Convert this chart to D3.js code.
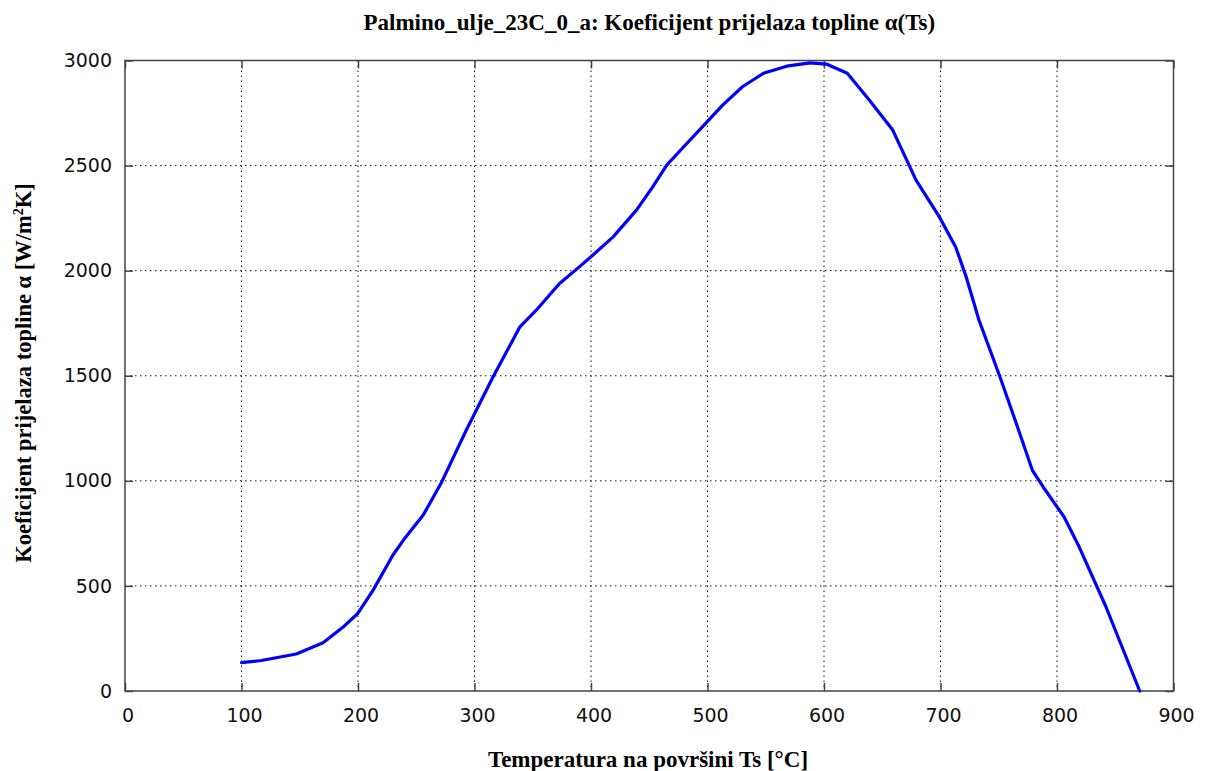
<!DOCTYPE html>
<html>
<head>
<meta charset="utf-8">
<script src="https://cdn.jsdelivr.net/npm/d3@7"></script>
<style>
  html, body { margin: 0; padding: 0; background: #fff; }
  svg { display: block; }
</style>
</head>
<body>
<svg id="chart" width="1205" height="771"></svg>
<script>
// ---- data ----
const temperature = [100,117,147,170,187,200,213,230,239,256,272,293,316,339,353,373,390,400,419,439,453,465,477,493,513,530,548,568,588,602,620,639,659,679,699,713,722,733,751,765,779,788,806,819,842,871];
const alpha       = [135,145,176,230,303,370,480,647,718,837,996,1242,1495,1733,1812,1939,2018,2066,2161,2288,2399,2502,2574,2669,2788,2875,2939,2973,2989,2983,2939,2811,2669,2431,2256,2113,1971,1765,1495,1274,1048,972,829,686,401,0];
const xTicks = [0,100,200,300,400,500,600,700,800,900];
const yTicks = [0,500,1000,1500,2000,2500,3000];
const titleText = "Palmino_ulje_23C_0_a: Koeficijent prijelaza topline α(Ts)";
const xLabelText = "Temperatura na površini Ts [°C]";

// ---- layout ----
const svg = d3.select("#chart");
const L = 125, R = 1173.5, T = 60.5, B = 691;
const x = d3.scaleLinear().domain([0, 900]).range([L, R]);
const y = d3.scaleLinear().domain([0, 3000]).range([B, T]);

// grid
const grid = svg.append("g");
grid.selectAll("line.vg").data(xTicks.filter(d => d > 0 && d < 900)).enter()
  .append("line").attr("x1", d => x(d)).attr("x2", d => x(d)).attr("y1", T).attr("y2", B)
  .attr("stroke", "#111").attr("stroke-width", 1).attr("stroke-dasharray", "1.5,3.5");
grid.selectAll("line.hg").data(yTicks.filter(d => d > 0 && d < 3000)).enter()
  .append("line").attr("x1", L).attr("x2", R).attr("y1", d => y(d)).attr("y2", d => y(d))
  .attr("stroke", "#111").attr("stroke-width", 1).attr("stroke-dasharray", "1.5,3.5");

// axes (ticks inward, mirrored)
const fmt = d3.format("d");
const tickStyle = g => {
  g.select(".domain").remove();
  g.selectAll(".tick line").attr("stroke", "#444").attr("stroke-width", 1.5);
};
svg.append("g").attr("transform", `translate(0,${B})`)
  .call(d3.axisBottom(x).tickValues(xTicks).tickFormat(fmt).tickSizeInner(-8).tickSizeOuter(0).tickPadding(18))
  .call(tickStyle)
  .call(g => g.selectAll("text").attr("font-family", "DejaVu Sans").attr("font-size", 19)
      .attr("fill", "#111").attr("dx", 2.5));
svg.append("g").attr("transform", `translate(0,${T})`)
  .call(d3.axisTop(x).tickValues(xTicks).tickSizeInner(-8).tickSizeOuter(0).tickFormat(""))
  .call(tickStyle);
svg.append("g").attr("transform", `translate(${L},0)`)
  .call(d3.axisLeft(y).tickValues(yTicks).tickFormat(fmt).tickSizeInner(-8).tickSizeOuter(0).tickPadding(13))
  .call(tickStyle)
  .call(g => g.selectAll("text").attr("font-family", "DejaVu Sans").attr("font-size", 19)
      .attr("fill", "#111"));
svg.append("g").attr("transform", `translate(${R},0)`)
  .call(d3.axisRight(y).tickValues(yTicks).tickSizeInner(-8).tickSizeOuter(0).tickFormat(""))
  .call(tickStyle);

// border
svg.append("rect").attr("x", L).attr("y", T).attr("width", R - L).attr("height", B - T)
  .attr("fill", "none").attr("stroke", "#444").attr("stroke-width", 1.5);

// curve
const data = temperature.map((t, i) => ({t, a: alpha[i]}));
svg.append("path").datum(data)
  .attr("d", d3.line().x(d => x(d.t)).y(d => y(d.a)).curve(d3.curveLinear))
  .attr("fill", "none").attr("stroke", "#0000ff").attr("stroke-width", 3.2)
  .attr("stroke-linejoin", "round").attr("stroke-linecap", "round");

// title
svg.append("text").attr("x", (L + R) / 2).attr("y", 30).attr("text-anchor", "middle")
  .attr("font-family", "Liberation Serif").attr("font-weight", "bold").attr("font-size", 23)
  .attr("fill", "#000").text(titleText);

// x label
svg.append("text").attr("x", 648).attr("y", 767).attr("text-anchor", "middle")
  .attr("font-family", "Liberation Serif").attr("font-weight", "bold").attr("font-size", 23)
  .attr("fill", "#000").text(xLabelText);

// y label with superscript
const yl = svg.append("text").attr("transform", "translate(31,373) rotate(-90)")
  .attr("text-anchor", "middle")
  .attr("font-family", "Liberation Serif").attr("font-weight", "bold").attr("font-size", 22.5)
  .attr("fill", "#000");
yl.append("tspan").text("Koeficijent prijelaza topline α [W/m");
yl.append("tspan").attr("dy", -8).attr("font-size", 14).text("2");
yl.append("tspan").attr("dy", 8).text("K]");
</script>
</body>
</html>
